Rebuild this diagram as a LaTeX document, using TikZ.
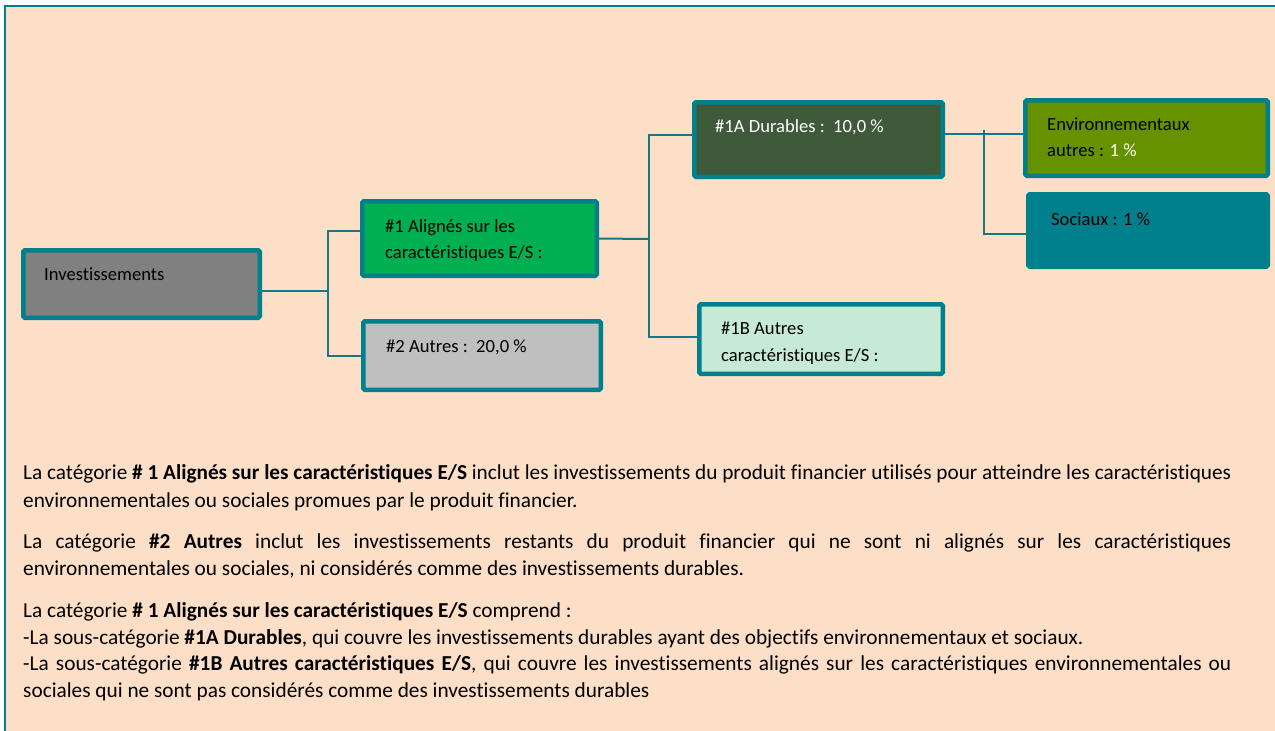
\documentclass[tikz,border=0pt]{standalone}
\usepackage{fontspec}
\usepackage{graphicx}
\setmainfont{Carlito}[Ligatures=NoCommon]
\definecolor{peach}{RGB}{253,223,199}
\definecolor{tealb}{RGB}{0,127,141}
\definecolor{tealc}{RGB}{20,120,132}
\definecolor{grayf}{RGB}{128,128,128}
\definecolor{greenf}{RGB}{0,176,80}
\definecolor{silverf}{RGB}{191,191,191}
\definecolor{darkgf}{RGB}{62,90,58}
\definecolor{lightgf}{RGB}{198,234,211}
\definecolor{olivef}{RGB}{102,146,0}
\tikzset{
  boxnode/.style={rectangle, draw=tealb, line width=4.5pt, rounded corners=1.5pt, inner sep=0pt, outer sep=0pt},
  conn/.style={draw=tealc, line width=2pt},
  boxtext/.style={anchor=base west, inner sep=0pt, font=\fontsize{18.6}{22}\selectfont},
  bodytext/.style={anchor=base west, inner sep=0pt, font=\fontsize{21.3}{25}\selectfont},
}
\newsavebox\jlinebox
\newcommand{\jline}[1]{\sbox\jlinebox{#1}%
  \ifdim\wd\jlinebox>1208pt
    \scalebox{\fpeval{1208pt/(\the\wd\jlinebox)}}[1]{\usebox\jlinebox}%
  \else
    \makebox[1208pt][s]{#1}%
  \fi}
\begin{document}
\begin{tikzpicture}[x=1pt,y=-1pt]
\useasboundingbox (0,0) rectangle (1275,731);
\clip (0,0) rectangle (1275,731);
\fill[white] (0,0) rectangle (1275,731);
\draw[fill=peach, draw=tealb, line width=2pt] (5,6) rectangle (1300,760);

% boxes
\node[boxnode, fill=grayf, minimum width=236.5pt, minimum height=67.5pt] (inv) at (141.5,284) {};
\node[boxnode, fill=greenf, minimum width=234.5pt, minimum height=74.5pt] (a1) at (479.5,238.5) {};
\node[boxnode, fill=silverf, minimum width=237.5pt, minimum height=68.5pt] (a2) at (482,355.5) {};
\node[boxnode, fill=darkgf, minimum width=248.5pt, minimum height=74.5pt] (d1A) at (818.5,139.5) {};
\node[boxnode, fill=lightgf, minimum width=243.5pt, minimum height=69.5pt] (d1B) at (821,339) {};
\node[boxnode, fill=olivef, minimum width=242.5pt, minimum height=75.5pt] (env) at (1146.5,138) {};
\node[boxnode, fill=tealb, minimum width=239.5pt, minimum height=72.5pt] (soc) at (1148,230.5) {};

% connectors
\coordinate (j1) at (328,291);
\coordinate (j2) at (649,239);
\coordinate (j3) at (984,130);
\draw[conn] ([yshift=-7pt]inv.east) -- (j1);
\draw[conn] ([yshift=7.5pt]a1.west) -| (j1) |- (a2.west);
\draw[conn] (a1.east) -- (j2);
\draw[conn] ([yshift=4.5pt]d1A.west) -| (j2) |- ([yshift=2pt]d1B.west);
\draw[conn] ([yshift=5.5pt]d1A.east) -- ([yshift=4pt]env.west);
\draw[conn] (j3) |- ([yshift=-3.5pt]soc.west);

% box texts
\node[boxtext] (tinv) at (44,280) {Investissements};
\node[boxtext] (ta1a) at (385,232) {\#1 Alignés sur les};
\node[boxtext] (ta1b) at (385,258) {caractéristiques E/S :};
\node[boxtext] (ta2) at (386,352) {\#2 Autres :\ \ 20,0 \%};
\node[boxtext, text=white] (td1A) at (715,132) {\#1A Durables :\ \ 10,0 \%};
\node[boxtext] (td1Ba) at (721,334) {\#1B Autres};
\node[boxtext] (td1Bb) at (721,361) {caractéristiques E/S :};
\node[boxtext] (tenva) at (1047,130) {Environnementaux};
\node[boxtext] (tenvb) at (1047,156) {autres : \textcolor{white}{1 \%}};
\node[boxtext] (tsoc) at (1051,225) {Sociaux : 1 \%};

% body text
\node[bodytext] (l1) at (23,479) {\jline{La catégorie \textbf{\# 1 Alignés sur les caractéristiques E/S} inclut les investissements du produit financier utilisés pour atteindre les caractéristiques}};
\node[bodytext] (l2) at (23,507) {environnementales ou sociales promues par le produit financier.};
\node[bodytext] (l3) at (23,548) {\jline{La catégorie \textbf{\#2 Autres} inclut les investissements restants du produit financier qui ne sont ni alignés sur les caractéristiques}};
\node[bodytext] (l4) at (23,575) {environnementales ou sociales, ni considérés comme des investissements durables.};
\node[bodytext] (l5) at (23,617) {La catégorie \textbf{\# 1 Alignés sur les caractéristiques E/S} comprend :};
\node[bodytext] (l6) at (23,644) {-La sous-catégorie \textbf{\#1A Durables}, qui couvre les investissements durables ayant des objectifs environnementaux et sociaux.};
\node[bodytext] (l7) at (23,670) {\jline{-La sous-catégorie \textbf{\#1B Autres caractéristiques E/S}, qui couvre les investissements alignés sur les caractéristiques environnementales ou}};
\node[bodytext] (l8) at (23,697) {sociales qui ne sont pas considérés comme des investissements durables};
\end{tikzpicture}
\end{document}
